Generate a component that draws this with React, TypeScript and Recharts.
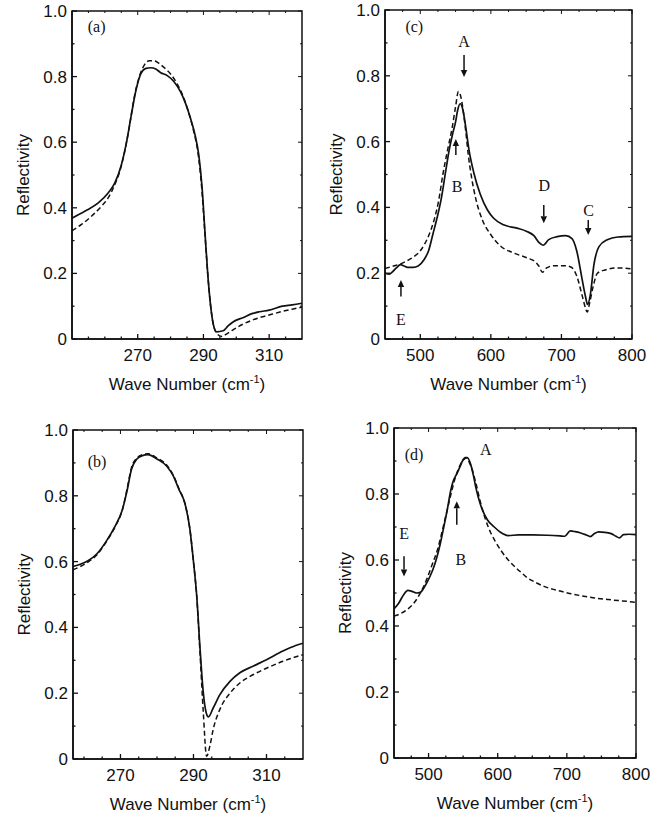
import React from "react";
import { LineChart, Line, XAxis, YAxis, ReferenceLine, ReferenceDot, ReferenceArea } from "recharts";

type Pt = [number, number];

// panel (a)
const aSolid: Pt[] = [
  [250, 0.368], [254, 0.39], [258, 0.415], [261, 0.445], [263, 0.475], [265, 0.53],
  [266.6, 0.6], [268, 0.68], [269.5, 0.76], [271, 0.81], [272.5, 0.825], [274, 0.827],
  [275.5, 0.823], [277, 0.812], [279, 0.803], [281, 0.785], [283, 0.754], [284.5, 0.72],
  [286, 0.675], [287.5, 0.62], [288.6, 0.56], [289.6, 0.46], [290.5, 0.32], [291.3, 0.2],
  [292.2, 0.1], [293, 0.045], [294, 0.022], [296, 0.025], [297.5, 0.04], [299, 0.052],
  [302, 0.065], [305, 0.078], [307, 0.083], [310, 0.088], [314, 0.1], [317, 0.104], [320, 0.109],
];
const aDashed: Pt[] = [
  [250, 0.33], [253, 0.35], [256, 0.375], [259, 0.405], [261, 0.43], [263, 0.47],
  [264.5, 0.51], [266, 0.57], [267.5, 0.65], [269, 0.74], [270.5, 0.8], [272, 0.835],
  [273.5, 0.848], [275, 0.848], [276.5, 0.84], [278, 0.828], [280, 0.808], [282, 0.778],
  [284, 0.735], [285.5, 0.69], [287, 0.635], [288.3, 0.57], [289.4, 0.47], [290.4, 0.33],
  [291.3, 0.2], [292.2, 0.1], [293, 0.045], [294, 0.018], [295.5, 0.008], [297, 0.015],
  [299, 0.028], [302, 0.045], [305, 0.058], [308, 0.068], [311, 0.076], [314, 0.084],
  [317, 0.091], [320, 0.097],
];

// panel (b)
const bSolid: Pt[] = [
  [257, 0.585], [259, 0.592], [261, 0.602], [263.5, 0.623], [266, 0.66], [268.5, 0.707],
  [270.5, 0.757], [271.8, 0.815], [273, 0.88], [274.5, 0.912], [276, 0.922], [277.5, 0.925],
  [280, 0.912], [282.7, 0.89], [284.5, 0.86], [286, 0.82], [287.7, 0.775], [289, 0.7],
  [290, 0.6], [290.9, 0.494], [291.8, 0.335], [292.7, 0.2], [293.5, 0.14], [294.1, 0.128],
  [295.4, 0.155], [297.2, 0.195], [300, 0.236], [302.7, 0.262], [306.3, 0.282], [310, 0.302],
  [314.5, 0.328], [318, 0.345], [320, 0.352],
];
const bDashed: Pt[] = [
  [257, 0.575], [259, 0.585], [261, 0.598], [263.5, 0.62], [266, 0.658], [268.5, 0.705],
  [270.5, 0.757], [271.8, 0.82], [273, 0.885], [274.5, 0.915], [276, 0.925], [277.5, 0.928],
  [280, 0.915], [282.7, 0.893], [284.5, 0.862], [286, 0.822], [287.7, 0.775], [289, 0.7],
  [290, 0.6], [290.9, 0.494], [291.8, 0.32], [292.7, 0.14], [293.6, 0.008], [294.5, 0.04],
  [295.4, 0.09], [297.2, 0.15], [300, 0.2], [302.7, 0.231], [306.3, 0.256], [310, 0.276],
  [314.5, 0.297], [320, 0.317],
];

// panel (c)
const cSolid: Pt[] = [
  [450, 0.2], [456, 0.197], [461, 0.205], [466, 0.216], [472, 0.226], [477, 0.222],
  [482, 0.218], [490, 0.218], [497, 0.222], [505, 0.24], [512, 0.27], [518, 0.32],
  [524, 0.37], [530, 0.43], [536, 0.51], [541, 0.575], [546, 0.625], [550, 0.66],
  [553, 0.696], [556.5, 0.715], [560, 0.7], [564, 0.65], [569, 0.575], [576, 0.504],
  [585, 0.44], [595, 0.393], [604, 0.367], [618, 0.347], [637, 0.337], [651, 0.327],
  [661, 0.314], [668, 0.294], [674, 0.285], [682, 0.302], [694, 0.311], [706, 0.314],
  [715, 0.305], [722, 0.265], [729, 0.185], [734, 0.13], [737, 0.105], [741, 0.135],
  [746, 0.225], [753, 0.28], [765, 0.302], [780, 0.31], [800, 0.312],
];
const cDashed: Pt[] = [
  [450, 0.214], [462, 0.222], [473, 0.229], [483, 0.24], [492, 0.252], [500, 0.268],
  [506, 0.288], [513, 0.32], [520, 0.365], [526, 0.42], [532, 0.5], [539, 0.578],
  [545, 0.64], [550, 0.706], [554, 0.752], [557, 0.74], [560, 0.706], [564.5, 0.63],
  [568, 0.56], [572, 0.5], [579, 0.423], [588, 0.362], [600, 0.317], [614, 0.282],
  [633, 0.261], [652, 0.246], [662, 0.236], [668, 0.222], [673, 0.203], [679, 0.216],
  [690, 0.223], [705, 0.223], [714, 0.218], [722, 0.19], [729, 0.135], [734, 0.095],
  [736.5, 0.082], [740, 0.11], [745, 0.16], [751, 0.2], [762, 0.21], [780, 0.216],
  [800, 0.213],
];

// panel (d)
const dSolid: Pt[] = [
  [450, 0.452], [457, 0.47], [464, 0.495], [470, 0.508], [476, 0.505], [482, 0.5],
  [488, 0.502], [495, 0.522], [502, 0.55], [508, 0.581], [517, 0.65], [522, 0.7],
  [527, 0.752], [532, 0.81], [535, 0.835], [541, 0.862], [546, 0.885], [549, 0.9],
  [553, 0.91], [556, 0.91], [561, 0.889], [565, 0.855], [568, 0.823], [575, 0.768],
  [585, 0.722], [595, 0.7], [604, 0.684], [615, 0.674], [630, 0.676], [650, 0.676],
  [672, 0.675], [690, 0.673], [697, 0.672], [705, 0.688], [712, 0.686], [720, 0.682],
  [728, 0.676], [734, 0.671], [740, 0.68], [746, 0.685], [755, 0.684], [764, 0.68],
  [771, 0.672], [776, 0.667], [782, 0.677], [790, 0.678], [800, 0.677],
];
const dDashed: Pt[] = [
  [450, 0.43], [460, 0.438], [469, 0.45], [477, 0.465], [484, 0.485], [491, 0.512],
  [498, 0.545], [505, 0.585], [513, 0.632], [520, 0.69], [527, 0.752], [533, 0.805],
  [539, 0.852], [545, 0.885], [549, 0.9], [555, 0.909], [559, 0.895], [563, 0.874],
  [569, 0.828], [575, 0.775], [582, 0.725], [590, 0.682], [597, 0.655], [604, 0.631],
  [614, 0.603], [624, 0.581], [634, 0.562], [643, 0.546], [655, 0.532], [667, 0.52],
  [684, 0.509], [701, 0.5], [720, 0.492], [740, 0.485], [760, 0.48], [780, 0.476],
  [800, 0.472],
];

const yTicks = [0, 0.1, 0.2, 0.3, 0.4, 0.5, 0.6, 0.7, 0.8, 0.9, 1.0];
const yLabels = [0, 0.2, 0.4, 0.6, 0.8, 1.0];
const lowTicks = [255, 260, 265, 270, 275, 280, 285, 290, 295, 300, 305, 310, 315];
const lowLabels = [270, 290, 310];
const highTicks = [475, 500, 525, 550, 575, 600, 625, 650, 675, 700, 725, 750, 775, 800];
const highLabels = [500, 600, 700, 800];

const INK = "#111";
const SANS = "'Liberation Sans', Arial, Helvetica, sans-serif";
const SERIF = "'Liberation Serif', 'Times New Roman', serif";

const toRows = (pts: Pt[]) => pts.map(([x, y]) => ({ x, y }));

const isIn = (list: number[], v: number) => list.some((l) => Math.abs(l - v) < 1e-6);

const makeBottomTick = (labels: number[]) => (p: any) => {
  const v = p.payload.value;
  const major = isIn(labels, v);
  return (
    <g>
      <line x1={p.x} x2={p.x} y1={p.y} y2={p.y - (major ? 5 : 2.5)} stroke={INK} strokeWidth={1.3} />
      {major && (
        <text x={p.x} y={p.y + 22} textAnchor="middle" fontSize={17} fontFamily={SANS} fill={INK}>
          {v}
        </text>
      )}
    </g>
  );
};

const makeTopTick = (labels: number[]) => (p: any) => {
  const major = isIn(labels, p.payload.value);
  return <line x1={p.x} x2={p.x} y1={p.y} y2={p.y + (major ? 4 : 2)} stroke={INK} strokeWidth={1} />;
};

const LeftTick = (p: any) => {
  const v = p.payload.value;
  const major = isIn(yLabels, v);
  return (
    <g>
      <line x1={p.x} x2={p.x + (major ? 5 : 2.5)} y1={p.y} y2={p.y} stroke={INK} strokeWidth={1.3} />
      {major && (
        <text x={p.x - 5} y={p.y + 6} textAnchor="end" fontSize={17} fontFamily={SANS} fill={INK}>
          {v === 0 ? "0" : v.toFixed(1)}
        </text>
      )}
    </g>
  );
};

const RightTick = (p: any) => {
  const major = isIn(yLabels, p.payload.value);
  return <line x1={p.x} x2={p.x - (major ? 4 : 2)} y1={p.y} y2={p.y} stroke={INK} strokeWidth={1} />;
};

const YTitle = (props: any) => {
  const vb = props.viewBox;
  const cx = vb.x + vb.width - 49;
  const cy = vb.y + vb.height / 2;
  return (
    <text
      x={cx}
      y={cy + 6}
      transform={`rotate(-90 ${cx} ${cy})`}
      textAnchor="middle"
      fontSize={17}
      fontFamily={SANS}
      fill={INK}
    >
      Reflectivity
    </text>
  );
};

const XTitle = (props: any) => {
  const vb = props.viewBox;
  const cx = vb.x + vb.width / 2;
  return (
    <text x={cx} y={vb.y + 51} textAnchor="middle" fontSize={17} fontFamily={SANS} fill={INK}>
      Wave Number (cm
      <tspan dy={-7} fontSize={11}>-1</tspan>
      <tspan dy={7}>)</tspan>
    </text>
  );
};

// arrow drawn along a segment, head at the end point
const ArrowShape = (p: any) => {
  const { x1, y1, x2, y2 } = p;
  const dir = y2 > y1 ? 1 : -1;
  const head = 7;
  return (
    <g>
      <line x1={x1} y1={y1} x2={x2} y2={y2 - dir * head} stroke={INK} strokeWidth={1.5} />
      <polygon points={`${x2},${y2} ${x2 - 3.2},${y2 - dir * head} ${x2 + 3.2},${y2 - dir * head}`} fill={INK} />
    </g>
  );
};

const makeNote = (text: string) => (p: any) => (
  <text x={p.cx} y={p.cy} textAnchor="middle" dominantBaseline="central" fontSize={16} fontFamily={SERIF} fill={INK}>
    {text}
  </text>
);

interface Note {
  x: number;
  y: number;
  text: string;
}
interface Arrow {
  x: number;
  from: number;
  to: number;
}

interface PanelProps {
  left: number;
  top: number;
  plotW: number;
  plotH: number;
  xDomain: [number, number];
  xTicks: number[];
  xLabels: number[];
  solid: Pt[];
  dashed: Pt[];
  notes: Note[];
  arrows: Arrow[];
}

const Panel = ({ left, top, plotW, plotH, xDomain, xTicks, xLabels, solid, dashed, notes, arrows }: PanelProps) => {
  const yW = 72;
  return (
    <div style={{ position: "absolute", left: left - yW, top: top - 10 }}>
      <LineChart width={yW + plotW + 26} height={10 + plotH + 60} margin={{ top: 9, right: 25, left: 0, bottom: 0 }}>
        <XAxis
          type="number"
          dataKey="x"
          domain={xDomain}
          allowDataOverflow
          ticks={xTicks}
          interval={0}
          height={60}
          tickSize={0}
          tickMargin={0}
          tickLine={false}
          tick={makeBottomTick(xLabels)}
          axisLine={{ stroke: INK, strokeWidth: 1.6 }}
          label={<XTitle />}
        />
        <XAxis
          xAxisId="top"
          orientation="top"
          type="number"
          dataKey="x"
          domain={xDomain}
          allowDataOverflow
          ticks={xTicks}
          interval={0}
          height={1}
          tickSize={0}
          tickMargin={0}
          tickLine={false}
          tick={makeTopTick(xLabels)}
          axisLine={false}
        />
        <YAxis
          type="number"
          domain={[0, 1]}
          allowDataOverflow
          ticks={yTicks}
          interval={0}
          width={yW}
          tickSize={0}
          tickMargin={0}
          tickLine={false}
          tick={LeftTick}
          axisLine={{ stroke: INK, strokeWidth: 1.6 }}
          label={<YTitle />}
        />
        <YAxis
          yAxisId="right"
          orientation="right"
          type="number"
          domain={[0, 1]}
          allowDataOverflow
          ticks={yTicks}
          interval={0}
          width={1}
          tickSize={0}
          tickMargin={0}
          tickLine={false}
          tick={RightTick}
          axisLine={false}
        />
        <ReferenceArea
          x1={xDomain[0]}
          x2={xDomain[1]}
          y1={0}
          y2={1}
          fill="none"
          fillOpacity={0}
          stroke={INK}
          strokeWidth={1.5}
        />
        <Line
          data={toRows(dashed)}
          dataKey="y"
          type="monotone"
          stroke={INK}
          strokeWidth={1.5}
          strokeDasharray="5 3"
          dot={false}
          isAnimationActive={false}
        />
        <Line
          data={toRows(solid)}
          dataKey="y"
          type="monotone"
          stroke={INK}
          strokeWidth={1.7}
          dot={false}
          isAnimationActive={false}
        />
        {arrows.map((a, i) => (
          <ReferenceLine
            key={`ar${i}`}
            segment={[
              { x: a.x, y: a.from },
              { x: a.x, y: a.to },
            ]}
            shape={ArrowShape}
          />
        ))}
        {notes.map((n, i) => (
          <ReferenceDot key={`n${i}`} x={n.x} y={n.y} r={0} shape={makeNote(n.text)} />
        ))}
      </LineChart>
    </div>
  );
};

export default function App() {
  return (
    <div style={{ position: "absolute", left: 0, top: 0, width: 668, height: 821, background: "#fff" }}>
      <Panel
        left={72}
        top={11}
        plotW={230}
        plotH={328}
        xDomain={[250, 320]}
        xTicks={lowTicks}
        xLabels={lowLabels}
        solid={aSolid}
        dashed={aDashed}
        notes={[{ x: 257.5, y: 0.952, text: "(a)" }]}
        arrows={[]}
      />
      <Panel
        left={385}
        top={10}
        plotW={247}
        plotH={329}
        xDomain={[450, 800]}
        xTicks={highTicks}
        xLabels={highLabels}
        solid={cSolid}
        dashed={cDashed}
        notes={[
          { x: 491.5, y: 0.95, text: "(c)" },
          { x: 562, y: 0.904, text: "A" },
          { x: 552, y: 0.465, text: "B" },
          { x: 675.6, y: 0.468, text: "D" },
          { x: 738.4, y: 0.392, text: "C" },
          { x: 472.6, y: 0.058, text: "E" },
        ]}
        arrows={[
          { x: 562, from: 0.863, to: 0.796 },
          { x: 550.4, from: 0.559, to: 0.608 },
          { x: 675, from: 0.407, to: 0.352 },
          { x: 738, from: 0.362, to: 0.316 },
          { x: 472.6, from: 0.129, to: 0.179 },
        ]}
      />
      <Panel
        left={73}
        top={430}
        plotW={230}
        plotH={329}
        xDomain={[257, 320]}
        xTicks={lowTicks.filter((t) => t > 257)}
        xLabels={lowLabels}
        solid={bSolid}
        dashed={bDashed}
        notes={[{ x: 263.6, y: 0.904, text: "(b)" }]}
        arrows={[]}
      />
      <Panel
        left={394}
        top={428}
        plotW={242}
        plotH={330}
        xDomain={[450, 800]}
        xTicks={highTicks}
        xLabels={highLabels}
        solid={dSolid}
        dashed={dDashed}
        notes={[
          { x: 479, y: 0.919, text: "(d)" },
          { x: 582.8, y: 0.934, text: "A" },
          { x: 546.6, y: 0.601, text: "B" },
          { x: 464.5, y: 0.68, text: "E" },
        ]}
        arrows={[
          { x: 540.8, from: 0.707, to: 0.778 },
          { x: 464.5, from: 0.611, to: 0.55 },
        ]}
      />
    </div>
  );
}
